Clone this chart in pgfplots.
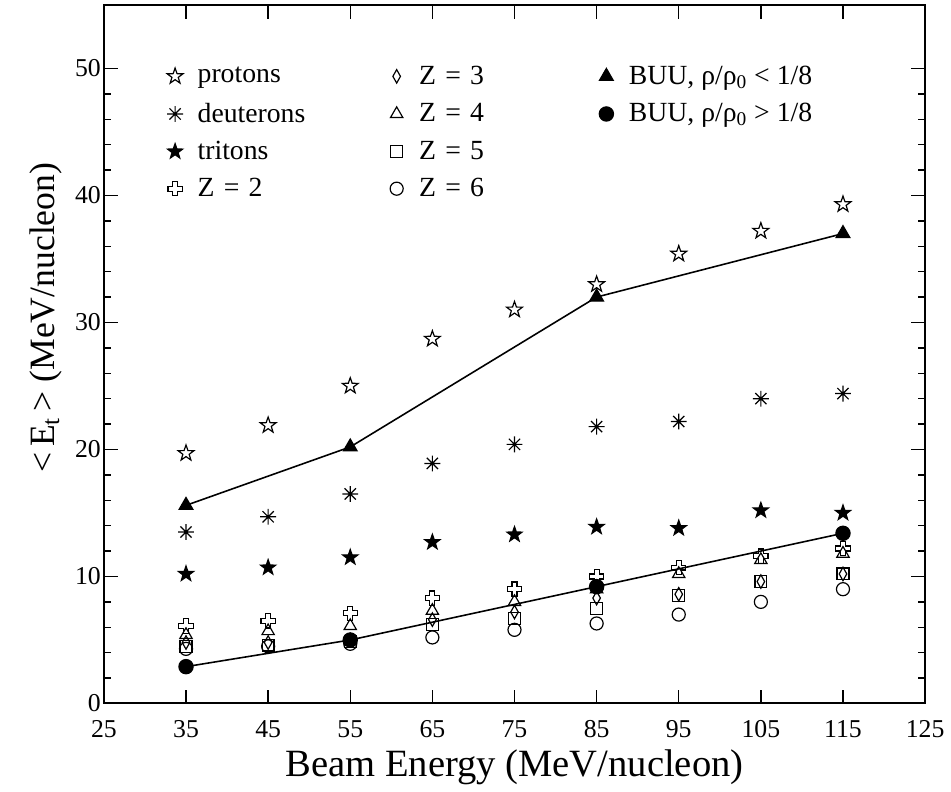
\documentclass[border=0pt]{standalone}
\usepackage{fontspec}
\setmainfont{Liberation Serif}
\usepackage{pgfplots}
\pgfplotsset{compat=1.18}

\pgfdeclareplotmark{ocross}{%
 \pgfpathmoveto{\pgfqpoint{-0.35\pgfplotmarksize}{\pgfplotmarksize}}%
 \pgfpathlineto{\pgfqpoint{0.35\pgfplotmarksize}{\pgfplotmarksize}}%
 \pgfpathlineto{\pgfqpoint{0.35\pgfplotmarksize}{0.35\pgfplotmarksize}}%
 \pgfpathlineto{\pgfqpoint{\pgfplotmarksize}{0.35\pgfplotmarksize}}%
 \pgfpathlineto{\pgfqpoint{\pgfplotmarksize}{-0.35\pgfplotmarksize}}%
 \pgfpathlineto{\pgfqpoint{0.35\pgfplotmarksize}{-0.35\pgfplotmarksize}}%
 \pgfpathlineto{\pgfqpoint{0.35\pgfplotmarksize}{-\pgfplotmarksize}}%
 \pgfpathlineto{\pgfqpoint{-0.35\pgfplotmarksize}{-\pgfplotmarksize}}%
 \pgfpathlineto{\pgfqpoint{-0.35\pgfplotmarksize}{-0.35\pgfplotmarksize}}%
 \pgfpathlineto{\pgfqpoint{-\pgfplotmarksize}{-0.35\pgfplotmarksize}}%
 \pgfpathlineto{\pgfqpoint{-\pgfplotmarksize}{0.35\pgfplotmarksize}}%
 \pgfpathlineto{\pgfqpoint{-0.35\pgfplotmarksize}{0.35\pgfplotmarksize}}%
 \pgfpathclose
 \pgfusepathqstroke}
\pgfdeclareplotmark{ast8}{%
 \pgfpathmoveto{\pgfqpoint{0pt}{\pgfplotmarksize}}\pgfpathlineto{\pgfqpoint{0pt}{-\pgfplotmarksize}}%
 \pgfpathmoveto{\pgfqpoint{\pgfplotmarksize}{0pt}}\pgfpathlineto{\pgfqpoint{-\pgfplotmarksize}{0pt}}%
 \pgfpathmoveto{\pgfqpoint{0.707\pgfplotmarksize}{0.707\pgfplotmarksize}}\pgfpathlineto{\pgfqpoint{-0.707\pgfplotmarksize}{-0.707\pgfplotmarksize}}%
 \pgfpathmoveto{\pgfqpoint{-0.707\pgfplotmarksize}{0.707\pgfplotmarksize}}\pgfpathlineto{\pgfqpoint{0.707\pgfplotmarksize}{-0.707\pgfplotmarksize}}%
 \pgfusepathqstroke}
\def\starpath{%
 \pgfpathmoveto{\pgfqpoint{0pt}{\pgfplotmarksize}}%
 \pgfpathlineto{\pgfqpoint{-0.235\pgfplotmarksize}{0.324\pgfplotmarksize}}%
 \pgfpathlineto{\pgfqpoint{-0.951\pgfplotmarksize}{0.309\pgfplotmarksize}}%
 \pgfpathlineto{\pgfqpoint{-0.380\pgfplotmarksize}{-0.124\pgfplotmarksize}}%
 \pgfpathlineto{\pgfqpoint{-0.588\pgfplotmarksize}{-0.809\pgfplotmarksize}}%
 \pgfpathlineto{\pgfqpoint{0pt}{-0.4\pgfplotmarksize}}%
 \pgfpathlineto{\pgfqpoint{0.588\pgfplotmarksize}{-0.809\pgfplotmarksize}}%
 \pgfpathlineto{\pgfqpoint{0.380\pgfplotmarksize}{-0.124\pgfplotmarksize}}%
 \pgfpathlineto{\pgfqpoint{0.951\pgfplotmarksize}{0.309\pgfplotmarksize}}%
 \pgfpathlineto{\pgfqpoint{0.235\pgfplotmarksize}{0.324\pgfplotmarksize}}%
 \pgfpathclose}
\pgfdeclareplotmark{ostar}{\starpath\pgfusepathqstroke}
\pgfdeclareplotmark{fstar}{\starpath\pgfusepathqfillstroke}

\begin{document}
\begin{tikzpicture}
\begin{axis}[
  width=415pt, height=353pt, scale only axis,
  xmin=25, xmax=125, ymin=0, ymax=55,
  xtick={25,35,...,125}, ytick={0,10,...,50},
  minor y tick num=4,
  tick align=inside,
  major tick length=7pt, minor tick length=3.5pt,
  axis line style={line width=1pt},
  every tick/.style={black, line width=0.7pt},
  /pgf/number format/assume math mode=true,
  ticklabel style={font=\fontsize{13}{15}\selectfont},
  xticklabel style={yshift=-5pt},
  yticklabel style={xshift=2pt},
  xlabel={Beam Energy (MeV/nucleon)},
  ylabel={<\,E\textsubscript{t}\,>~(MeV/nucleon)},
  x label style={font=\fontsize{19.5}{22}\selectfont, at={(axis description cs:0.5,0)}, anchor=base, yshift=-37pt},
  y label style={font=\fontsize{18}{21}\selectfont, at={(axis description cs:0,0.552)}, anchor=center, yshift=29.5pt},
  legend style={draw=none, fill=none, at={(axis description cs:0.068,0.925)}, anchor=north west,
    font=\fontsize{14}{16}\selectfont, row sep=4pt,
    /tikz/column 2/.style={nodes={text width=94pt, align=left}},
    /tikz/column 4/.style={nodes={text width=88pt, align=left}}},
  legend cell align=left,
  legend columns=4, transpose legend,
  legend image code/.code={\path (0cm,0cm) (0.47cm,0cm); \draw[mark repeat=2,mark phase=2,#1] plot coordinates {(0cm,0cm) (0.15cm,0cm) (0.3cm,0cm)};},
  every axis plot/.append style={black, line width=0.6pt},
]
% BUU lines
\addplot[forget plot, sharp plot, no marks, line width=0.8pt] coordinates {(35,15.6)(55,20.2)(85,32.0)(115,37.0)};
\addplot[forget plot, sharp plot, no marks, line width=0.8pt] coordinates {(35,2.9)(55,5.0)(85,9.2)(115,13.4)};

\addplot[only marks, mark=ostar, mark size=4.2pt] coordinates {
 (35,19.7)(45,21.9)(55,25.0)(65,28.7)(75,31.0)(85,33.0)(95,35.4)(105,37.2)(115,39.3)};
\addlegendentry{protons}
\addplot[only marks, mark=ast8, mark size=4pt] coordinates {
 (35,13.5)(45,14.7)(55,16.5)(65,18.9)(75,20.4)(85,21.8)(95,22.2)(105,24.0)(115,24.4)};
\addlegendentry{deuterons}
\addplot[only marks, mark=fstar, mark size=4pt] coordinates {
 (35,10.2)(45,10.7)(55,11.5)(65,12.7)(75,13.3)(85,13.9)(95,13.8)(105,15.2)(115,15.0)};
\addlegendentry{tritons}
\addplot[only marks, mark=ocross, mark size=3.6pt] coordinates {
 (35,6.1)(45,6.5)(55,7.1)(65,8.3)(75,9.0)(85,10.0)(95,10.7)(105,11.6)(115,12.2)};
\addlegendentry{Z = 2}
\addplot[only marks, mark=diamond, mark size=3.4pt, mark options={xscale=0.75}] coordinates {
 (35,4.8)(45,4.8)(55,5.0)(65,6.6)(75,7.2)(85,8.3)(95,8.6)(105,9.6)(115,10.2)};
\addlegendentry{Z = 3}
\addplot[only marks, mark=triangle, mark size=3.6pt] coordinates {
 (35,5.4)(45,5.7)(55,6.1)(65,7.3)(75,8.0)(85,9.0)(95,10.2)(105,11.3)(115,11.8)};
\addlegendentry{Z = 4}
\addplot[only marks, mark=square, mark size=3pt] coordinates {
 (35,4.5)(45,4.6)(55,4.9)(65,6.2)(75,6.7)(85,7.5)(95,8.5)(105,9.6)(115,10.2)};
\addlegendentry{Z = 5}
\addplot[only marks, mark=o, mark size=3.3pt] coordinates {
 (35,4.3)(45,4.5)(55,4.7)(65,5.2)(75,5.8)(85,6.3)(95,7.0)(105,8.0)(115,9.0)};
\addlegendentry{Z = 6}
\addplot[only marks, mark=triangle*, mark size=4pt] coordinates {(35,15.6)(55,20.2)(85,32.0)(115,37.0)};
\addlegendentry{BUU, ρ/ρ\textsubscript{0} < 1/8}
\addplot[only marks, mark=*, mark size=3.6pt] coordinates {(35,2.9)(55,5.0)(85,9.2)(115,13.4)};
\addlegendentry{BUU, ρ/ρ\textsubscript{0} > 1/8}
\addlegendimage{empty legend}\addlegendentry{}
\addlegendimage{empty legend}\addlegendentry{}
\end{axis}
\path ([shift={(-52.5pt,-41pt)}]current axis.south west) rectangle ([shift={(8pt,2.5pt)}]current axis.north east);
\end{tikzpicture}
\end{document}
